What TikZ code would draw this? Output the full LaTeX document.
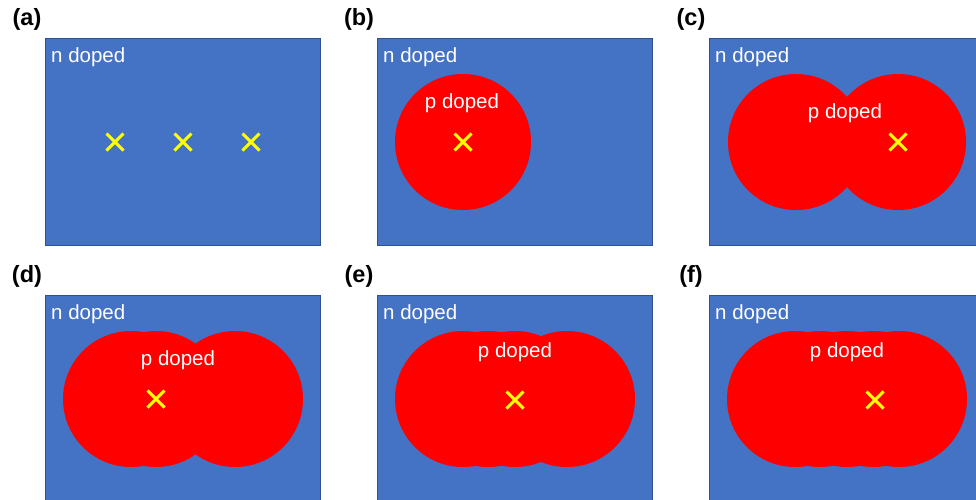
\documentclass[tikz,border=0pt]{standalone}
\usepackage{fontspec}
\setmainfont{Liberation Sans}
\usetikzlibrary{positioning}
\definecolor{ntype}{RGB}{68,114,196}
\definecolor{nedge}{RGB}{47,82,143}
\definecolor{ptype}{RGB}{255,0,0}
\definecolor{spot}{RGB}{255,255,0}

\begin{document}
\begin{tikzpicture}[x=1pt,y=-1pt,
  wafer/.style={fill=ntype,draw=nedge,line width=.8pt},
  panel/.style={font=\fontsize{23.5}{25}\selectfont\bfseries,inner sep=0pt},
  doping/.style={text=white,font=\fontsize{20.5}{22}\selectfont,inner sep=0pt},
  laser/.style={spot,line width=3pt}]
\useasboundingbox (0,0) rectangle (976,499);
% substrates with panel letters
\foreach \px/\py/\lab in {45/38/a,377/38/b,709/38/c,45/295/d,377/295/e,709/295/f} {
 \draw[wafer] (\px,\py) rectangle ++(275,207);
 \node[panel] (lab-\lab) at (\px-18,\py-19) {(\lab)};
 \node[doping,anchor=west] (n-\lab) at (\px+6,\py+19) {n doped};
}
% p doped spots, one disc per shot
\foreach \px/\py/\cs in {377/38/{86},709/38/{87,189},45/295/{86,111,190},
  377/295/{86,111,138,190},709/295/{86,111,138,164,190}} {
 \foreach \c in \cs \fill[ptype] (\px+\c,\py+104) circle (68pt);
}
\node[doping] (p-b) at (462,103) {p doped};
\node[doping] (p-c) at (845,113) {p doped};
\node[doping] (p-d) at (178,360) {p doped};
\node[doping] (p-e) at (515,352) {p doped};
\node[doping] (p-f) at (847,352) {p doped};
% laser positions
\foreach \x/\y in {115/142,183/142,251/142,463/142,898/142,156/399,515/400,875/400} {
 \draw[laser] (\x-8.5,\y-8.5)--(\x+8.5,\y+8.5);
 \draw[laser] (\x-8.5,\y+8.5)--(\x+8.5,\y-8.5);
}
\end{tikzpicture}
\end{document}
